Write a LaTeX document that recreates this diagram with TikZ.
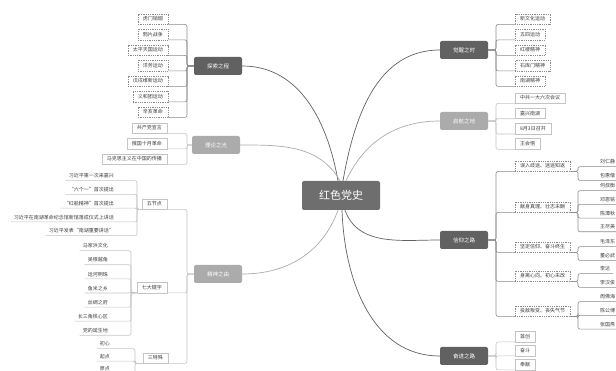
\documentclass[tikz,border=0pt]{standalone}
\usepackage{fontspec}
\setmainfont{Noto Sans CJK SC}
\usepackage{xcolor}
\usetikzlibrary{positioning}

\definecolor{rootgrey}{HTML}{6E6E6E}
\definecolor{darkgrey}{HTML}{616161}
\definecolor{lightgrey}{HTML}{ABABAB}
\definecolor{linegrey}{HTML}{8A8A8A}
\definecolor{palegrey}{HTML}{C4C4C4}
\definecolor{textgrey}{HTML}{3C3C3C}

\begin{document}
\begin{tikzpicture}[x=1pt,y=-1pt,
    root/.style={fill=rootgrey, rounded corners=2pt, text=white, font=\fontsize{11}{12}\selectfont, minimum width=78pt, minimum height=29pt, inner sep=0pt},
    topic/.style={rounded corners=2pt, text=white, font=\fontsize{5.5}{6}\selectfont, minimum width=48pt, minimum height=18pt, inner sep=0pt},
    leaf/.style={draw=palegrey, text=textgrey, font=\fontsize{5}{6}\selectfont, minimum height=10.5pt, inner xsep=5pt, inner ysep=0pt},
    dleaf/.style={leaf, draw=linegrey, dash pattern=on 1pt off 0.8pt},
    tip/.style={text=textgrey, font=\fontsize{5}{6}\selectfont, inner xsep=3pt, inner ysep=0pt, minimum height=9pt},
    link/.style={draw=linegrey, line width=0.6pt, rounded corners=2pt},
    plink/.style={link, draw=palegrey},
    curve/.style={draw=darkgrey, line width=0.7pt},
    pcurve/.style={draw=lightgrey, line width=0.7pt},
]
\useasboundingbox (0,0) rectangle (616,371);
\clip (0,0) rectangle (616,371);

% Root
\node[root] (root) at (341,195.5) {红色党史};

% Left: 探索之程
\node[topic, fill=darkgrey] (tansuo) at (218,66) {探索之程};
\coordinate (tsbr) at (187,66);
\foreach \t [count=\i] in {虎门销烟,鸦片战争,太平天国运动,洋务运动,戊戌维新运动,义和团运动,辛亥革命} {
    \node[dleaf, anchor=east] (ts\i) at (168,3.5+15.5*\i) {\t};
    \draw[link] (tansuo.west) -- (tsbr) |- (ts\i.south east);
}

% Left: 理论之光
\node[topic, fill=lightgrey] (lilun) at (216,145) {理论之光};
\coordinate (llbr) at (187,145);
\foreach \t [count=\i] in {共产党宣言,俄国十月革命,马克思主义在中国的传播} {
    \node[leaf, anchor=east] (ll\i) at (167,112.5+15.5*\i) {\t};
    \draw[plink] (lilun.west) -- (llbr) |- (ll\i.south east);
}

% Left: 精神之由
\node[topic, fill=lightgrey] (jsz) at (218,274) {精神之由};
\coordinate (jszbr) at (187,274);
\node[leaf, anchor=east] (wujie) at (167,204) {五节点};
\node[leaf, anchor=east] (qida) at (167,287.5) {七大键字};
\node[leaf, anchor=east] (sante) at (168,358) {三特殊};
\foreach \n in {wujie,qida,sante}
    \draw[plink] (jsz.west) -- (jszbr) |- (\n.south east);

\coordinate (wjbr) at (137,209.25);
\foreach \t [count=\i] in {习近平第一次来嘉兴,“六个一”首次提出,“红船精神”首次提出,习近平在南湖革命纪念馆新馆落成仪式上讲话,习近平发表“南湖重要讲话”} {
    \node[tip, anchor=east] (wj\i) at (117,162.25+13.75*\i) {\t};
    \draw[plink] (wujie.south west) -- (wjbr) |- (wj\i.south east) -- (wj\i.south west);
}
\coordinate (qdbr) at (131,292.75);
\foreach \t [count=\i] in {马家浜文化,吴根越角,运河明珠,鱼米之乡,丝绸之府,长三角核心区,党的诞生地} {
    \node[tip, anchor=east] (qd\i) at (111,231.9+14.1*\i) {\t};
    \draw[plink] (qida.south west) -- (qdbr) |- (qd\i.south east) -- (qd\i.south west);
}
\coordinate (stbr) at (135,363.25);
\foreach \t [count=\i] in {初心,起点,原点} {
    \node[tip, anchor=east] (st\i) at (113,331.5+12.5*\i) {\t};
    \draw[plink] (sante.south west) -- (stbr) |- (st\i.south east) -- (st\i.south west);
}

% Right: 觉醒之时
\node[topic, fill=darkgrey] (juexing) at (464,50) {觉醒之时};
\coordinate (jxbr) at (496,50);
\foreach \t [count=\i] in {新文化运动,五四运动,红楼精神,石库门精神,南湖精神} {
    \node[dleaf, anchor=west] (jx\i) at (515,3.5+15.5*\i) {\t};
    \draw[link] (juexing.east) -- (jxbr) |- (jx\i.south west);
}

% Right: 启航之地
\node[topic, fill=lightgrey] (qihang) at (464,121) {启航之地};
\coordinate (qhbr) at (496,121);
\foreach \t [count=\i] in {中共一大六次会议,嘉兴南湖,8月3日召开,王会悟} {
    \node[leaf, anchor=west] (qh\i) at (515,82.7+15.3*\i) {\t};
    \draw[plink] (qihang.east) -- (qhbr) |- (qh\i.south west);
}

% Right: 信仰之路
\node[topic, fill=darkgrey] (xinyang) at (464,240) {信仰之路};
\coordinate (xybr) at (496,240);
\node[dleaf, anchor=west] (xy1) at (515,166) {误入歧途、迷途知返};
\node[dleaf, anchor=west] (xy2) at (515,207) {献身真理、壮志未酬};
\node[dleaf, anchor=west] (xy3) at (515,247) {坚定信仰、奋斗终生};
\node[dleaf, anchor=west] (xy4) at (515,276) {身离心向、初心未改};
\node[dleaf, anchor=west] (xy5) at (515,311) {投敌叛变、丧失气节};
\foreach \i in {1,...,5}
    \draw[link] (xinyang.east) -- (xybr) |- (xy\i.south west);

% people under each group
\foreach \g/\y/\names in {1/162/{刘仁静,包惠僧},2/186/{何叔衡,邓恩铭,陈潭秋,王尽美},3/242/{毛泽东,董必武},4/269/{李达,李汉俊},5/297/{周佛海,陈公博,张国焘}} {
    \coordinate (pbr\g) at (578,0);
    \foreach \t [count=\j] in \names {
        \node[tip, anchor=west] (p\g\j) at (597,\y+13.7*\j-13.7) {\t};
        \draw[link] (xy\g.south east) -- (xy\g.south east -| pbr\g) |- (p\g\j.south west) -- (p\g\j.south east);
    }
}

% Right: 奋进之路
\node[topic, fill=darkgrey] (fenjin) at (464,356) {奋进之路};
\coordinate (fjbr) at (496,356);
\foreach \t [count=\i] in {首创,奋斗,奉献} {
    \node[leaf, anchor=west] (fj\i) at (515,322.5+14*\i) {\t};
    \draw[plink] (fenjin.east) -- (fjbr) |- (fj\i.south west);
}

% Curves to the root
\draw[curve] (tansuo.east) to[out=0,in=100] ([xshift=-3pt]root.north);
\draw[pcurve] (lilun.east) to[out=0,in=120] ([xshift=-1pt]root.north);
\draw[pcurve] (jsz.east) to[out=0,in=-110] ([xshift=-3pt]root.south);
\draw[curve] (juexing.west) to[out=180,in=80] ([xshift=2pt]root.north);
\draw[pcurve] (qihang.west) to[out=180,in=65] ([xshift=5pt]root.north);
\draw[curve] (xinyang.west) to[out=180,in=-70] ([xshift=4pt]root.south);
\draw[curve] (fenjin.west) to[out=180,in=-88] ([xshift=1pt]root.south);
\end{tikzpicture}
\end{document}
